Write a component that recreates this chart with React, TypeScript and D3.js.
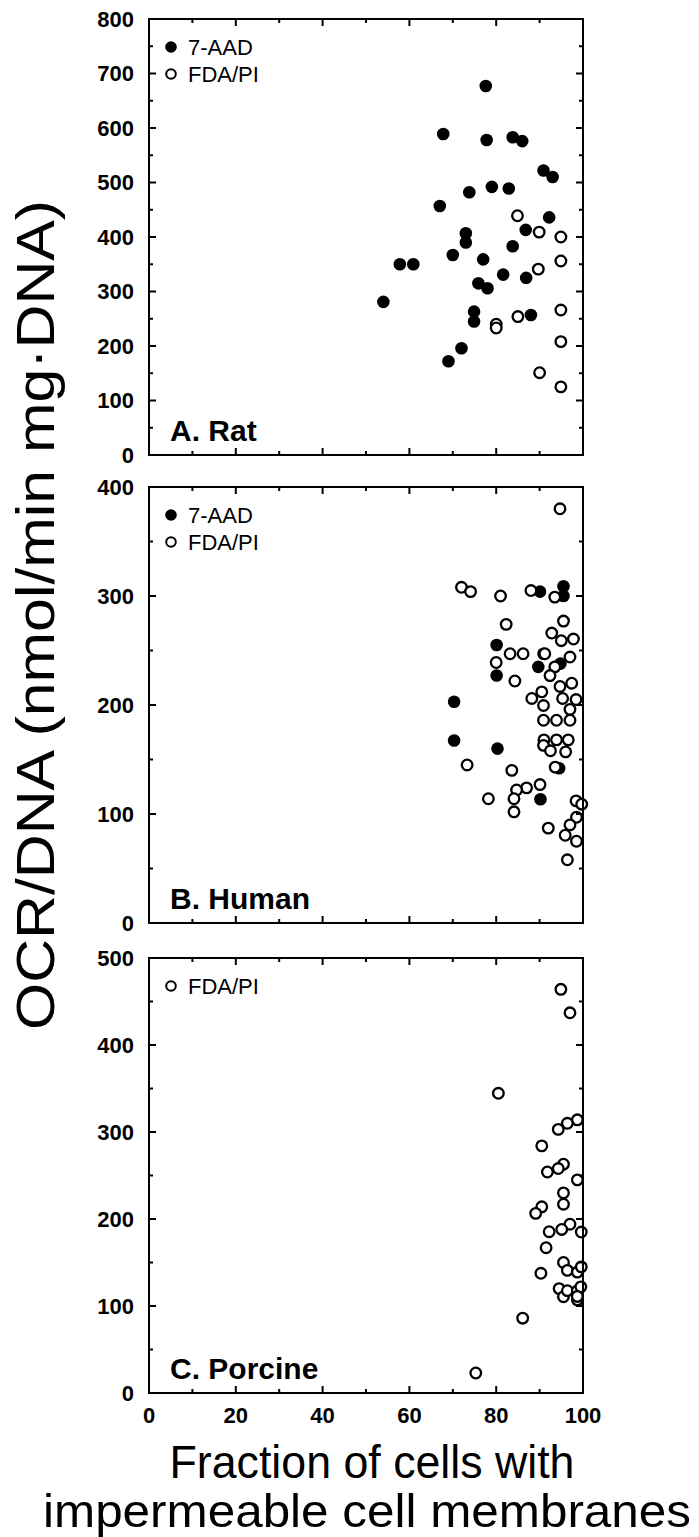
import React from "react";
import * as d3 from "d3";

// ---------- data ----------
const xTickValues = [0, 20, 40, 60, 80, 100];
const ratTicks = [0, 100, 200, 300, 400, 500, 600, 700, 800];
const humanTicks = [0, 100, 200, 300, 400];
const porcineTicks = [0, 100, 200, 300, 400, 500];

const ratAAD: [number, number][] = [
  [77.6, 677], [67.8, 589], [77.8, 578], [83.8, 583], [86, 576], [90.9, 522], [93, 510],
  [79, 492], [82.9, 489], [73.8, 482], [67, 457], [92.2, 436], [86.8, 413], [73, 407],
  [73, 390], [83.8, 383], [70, 367], [57.8, 350], [60.9, 350], [77, 359], [81.6, 331],
  [86.9, 325], [75.9, 315], [78, 306], [54, 281], [74.9, 263], [74.9, 245], [88, 257],
  [72, 196], [69, 172],
];
const ratFDA: [number, number][] = [
  [84.9, 439], [89.9, 409], [94.9, 400], [89.7, 341], [94.9, 356], [94.9, 266], [85, 254],
  [80, 240], [80, 233], [94.9, 208], [90, 151], [94.9, 125],
];
const humanFDA: [number, number][] = [
  [94.7, 380], [72, 308], [74.1, 304], [81, 300], [88, 305], [93.5, 299], [82.3, 274],
  [92.8, 266], [95.5, 277], [97.8, 260.5], [95, 259], [83.2, 247], [86.2, 247], [91.2, 247],
  [80, 239], [97, 244], [93.5, 235], [92.4, 227], [84.3, 222], [97.4, 220], [94.7, 217],
  [88.2, 206], [90.5, 212], [90.9, 199.5], [95.3, 206], [98.4, 205], [97, 196], [90.9, 186],
  [93.9, 186], [97, 186], [91, 168], [90.9, 163], [93.9, 168], [96.6, 168], [92.5, 158],
  [96, 157], [93.6, 143], [73.3, 145], [83.6, 140], [90.1, 127], [87, 124], [84.7, 122],
  [84.1, 114], [78.2, 114], [84.1, 102], [98.4, 112], [99.7, 109], [98.5, 97], [97, 90],
  [92, 87], [95.9, 80.5], [98.5, 75], [96.4, 58],
];
const humanAAD: [number, number][] = [
  [90.1, 304], [95.5, 309], [95.5, 300], [80.1, 255], [90.9, 247], [89.7, 235], [80.1, 227],
  [94.8, 238], [70.3, 203], [70.3, 167.5], [80.3, 160], [94.5, 142], [90.2, 113.5],
];
const porcineFDA: [number, number][] = [
  [94.9, 464], [97, 437], [80.5, 344.5], [98.7, 314], [96.4, 310], [94.3, 303], [90.5, 284],
  [95.5, 263], [94.3, 258], [91.8, 254], [98.7, 245], [95.5, 230], [95.5, 217], [90.5, 214],
  [89.1, 206.5], [97, 194], [95.1, 188], [92.2, 185.4], [99.6, 185], [91.5, 167], [95.5, 150],
  [96.4, 141], [98.7, 139], [99.6, 145], [90.3, 137.6], [94.5, 120], [95.5, 110.7],
  [96.4, 117.6], [98.7, 117.6], [99.5, 122], [98.7, 107], [98.7, 111], [86.1, 86], [75.3, 23],
];

const panelLabels = ["A. Rat", "B. Human", "C. Porcine"];
const legendAAD = "7-AAD";
const legendFDA = "FDA/PI";
const yAxisTitle = "OCR/DNA (nmol/min mg\u00B7DNA)";
const xAxisTitle1 = "Fraction of cells with";
const xAxisTitle2 = "impermeable cell membranes";

// ---------- layout ----------
const W = 699;
const H = 1537;
const X0 = 149;
const X1 = 583;
const FONT = "'Liberation Sans', Arial, Helvetica, sans-serif";

type Panel = {
  top: number;
  bottom: number;
  yMax: number;
  ticks: number[];
  label: string;
  filled: [number, number][];
  open: [number, number][];
  legend: ("filled" | "open")[];
};

const panels: Panel[] = [
  { top: 19, bottom: 455, yMax: 800, ticks: ratTicks, label: panelLabels[0], filled: ratAAD, open: ratFDA, legend: ["filled", "open"] },
  { top: 487, bottom: 923, yMax: 400, ticks: humanTicks, label: panelLabels[1], filled: humanAAD, open: humanFDA, legend: ["filled", "open"] },
  { top: 958, bottom: 1393, yMax: 500, ticks: porcineTicks, label: panelLabels[2], filled: [], open: porcineFDA, legend: ["open"] },
];

const x = d3.scaleLinear().domain([0, 100]).range([X0, X1]);
const xMinor = d3.range(10, 100, 20);
const R = 6.3;

function PanelView({ p, showX }: { p: Panel; showX: boolean }) {
  const y = d3.scaleLinear().domain([0, p.yMax]).range([p.bottom, p.top]);
  const step = p.ticks[1] - p.ticks[0];
  const yMinor = d3.range(step / 2, p.yMax, step);
  const maj = 7;
  const min = 4;
  return (
    <g>
      {p.filled.map((d, i) => (
        <circle key={"f" + i} cx={x(d[0])} cy={y(d[1])} r={R} fill="#000" />
      ))}
      {p.open.map((d, i) => (
        <circle key={"o" + i} cx={x(d[0])} cy={y(d[1])} r={R - 1} fill="#fff" stroke="#000" strokeWidth={2.3} />
      ))}
      <rect x={X0} y={p.top} width={X1 - X0} height={p.bottom - p.top} fill="none" stroke="#000" strokeWidth={2} />
      {xTickValues.map((v) => (
        <g key={"xt" + v}>
          <line x1={x(v)} x2={x(v)} y1={p.bottom} y2={p.bottom - maj} stroke="#000" strokeWidth={2} />
          <line x1={x(v)} x2={x(v)} y1={p.top} y2={p.top + maj} stroke="#000" strokeWidth={2} />
        </g>
      ))}
      {xMinor.map((v) => (
        <g key={"xm" + v}>
          <line x1={x(v)} x2={x(v)} y1={p.bottom} y2={p.bottom - min} stroke="#000" strokeWidth={2} />
          <line x1={x(v)} x2={x(v)} y1={p.top} y2={p.top + min} stroke="#000" strokeWidth={2} />
        </g>
      ))}
      {p.ticks.map((v) => (
        <g key={"yt" + v}>
          <line x1={X0} x2={X0 + maj} y1={y(v)} y2={y(v)} stroke="#000" strokeWidth={2} />
          <line x1={X1} x2={X1 - maj} y1={y(v)} y2={y(v)} stroke="#000" strokeWidth={2} />
          <text x={X0 - 15} y={y(v)} dy="0.36em" textAnchor="end" fontFamily={FONT} fontWeight="bold" fontSize={22}>
            {v}
          </text>
        </g>
      ))}
      {yMinor.map((v) => (
        <g key={"ym" + v}>
          <line x1={X0} x2={X0 + min} y1={y(v)} y2={y(v)} stroke="#000" strokeWidth={2} />
          <line x1={X1} x2={X1 - min} y1={y(v)} y2={y(v)} stroke="#000" strokeWidth={2} />
        </g>
      ))}
      {p.legend.map((kind, i) => {
        const cy = p.top + 28 + i * 27;
        return (
          <g key={"lg" + i}>
            {kind === "filled" ? (
              <circle cx={171} cy={cy} r={5.8} fill="#000" />
            ) : (
              <circle cx={171} cy={cy} r={4.8} fill="#fff" stroke="#000" strokeWidth={2} />
            )}
            <text x={188} y={cy} dy="0.36em" fontFamily={FONT} fontSize={22}>
              {kind === "filled" ? legendAAD : legendFDA}
            </text>
          </g>
        );
      })}
      <text x={170} y={p.bottom - 14} fontFamily={FONT} fontWeight="bold" fontSize={30}>
        {p.label}
      </text>
      {showX &&
        xTickValues.map((v) => (
          <text key={"xl" + v} x={x(v)} y={p.bottom + 22} dy="0.36em" textAnchor="middle" fontFamily={FONT} fontWeight="bold" fontSize={22}>
            {v}
          </text>
        ))}
    </g>
  );
}

export default function App() {
  return (
    <svg width={W} height={H} style={{ position: "absolute", left: 0, top: 0, background: "#fff" }}>
      <rect width={W} height={H} fill="#fff" />
      {panels.map((p, i) => (
        <PanelView key={i} p={p} showX={i === panels.length - 1} />
      ))}
      <text
        transform={`translate(54,615) rotate(-90)`}
        textAnchor="middle"
        fontFamily={FONT}
        fontSize={54}
        textLength={830}
        lengthAdjust="spacingAndGlyphs"
      >
        {yAxisTitle}
      </text>
      <text x={372} y={1478} textAnchor="middle" fontFamily={FONT} fontSize={47} textLength={405} lengthAdjust="spacingAndGlyphs">
        {xAxisTitle1}
      </text>
      <text x={367} y={1527} textAnchor="middle" fontFamily={FONT} fontSize={47} textLength={648} lengthAdjust="spacingAndGlyphs">
        {xAxisTitle2}
      </text>
    </svg>
  );
}
